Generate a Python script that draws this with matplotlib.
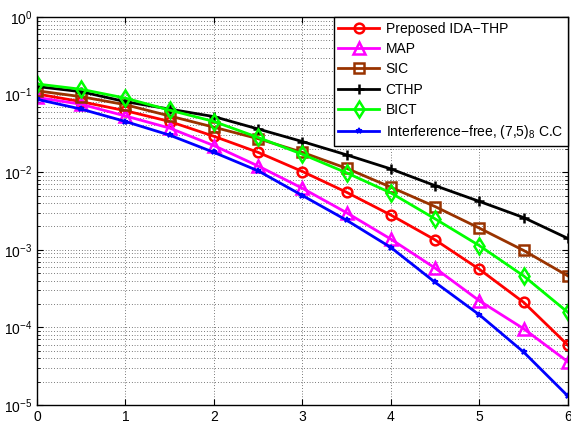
import matplotlib
matplotlib.use('Agg')
import matplotlib.pyplot as plt
import numpy as np
from matplotlib.ticker import LogLocator, NullLocator, FixedLocator

plt.rcParams['font.family'] = ['Liberation Sans', 'DejaVu Sans']
plt.rcParams['mathtext.fontset'] = 'custom'
plt.rcParams['mathtext.rm'] = 'Liberation Sans'
plt.rcParams['mathtext.it'] = 'Liberation Sans:italic'

snr = [0, 0.5, 1, 1.5, 2, 2.5, 3, 3.5, 4, 4.5, 5, 5.5, 6]

ida_thp = [0.102, 0.081, 0.062, 0.045, 0.029, 0.018, 0.0102, 0.0055, 0.0028, 0.00134, 0.00056, 0.00021, 5.9e-5]
map_det = [0.092, 0.075, 0.053, 0.037, 0.022, 0.012, 0.0062, 0.003, 0.00137, 0.00058, 0.00022, 9.6e-5, 3.6e-5]
sic = [0.112, 0.094, 0.074, 0.053, 0.038, 0.027, 0.018, 0.0112, 0.0064, 0.0036, 0.0019, 0.00098, 0.00046]
cthp = [0.127, 0.109, 0.081, 0.065, 0.052, 0.036, 0.0248, 0.0167, 0.011, 0.0067, 0.0042, 0.0026, 0.0014]
bict = [0.137, 0.117, 0.090, 0.063, 0.045, 0.028, 0.017, 0.0098, 0.0054, 0.0025, 0.00113, 0.00046, 0.000156]
intf_free = [0.087, 0.065, 0.045, 0.030, 0.018, 0.0104, 0.0050, 0.0024, 0.00107, 0.00038, 0.000145, 4.8e-5, 1.3e-5]

labels = ['Preposed IDA\u2212THP', 'MAP', 'SIC', 'CTHP', 'BICT',
          'Interference\u2212free, (7,5)$_8$ C.C']

fig = plt.figure(figsize=(5.71, 4.28), dpi=100)
ax = fig.add_axes([0.0648, 0.0537, 0.9299, 0.9066])

lw = 2
ax.semilogy(snr, ida_thp, '-o', color='red', lw=lw, ms=7, mfc='none', mew=1.8, label=labels[0])
ax.semilogy(snr, map_det, '-^', color='magenta', lw=lw, ms=8, mfc='none', mew=1.8, label=labels[1])
ax.semilogy(snr, sic, '-s', color='#993300', lw=lw, ms=7, mfc='none', mew=1.8, label=labels[2])
ax.semilogy(snr, cthp, '-+', color='black', lw=lw, ms=7, mew=1.8, label=labels[3])
ax.semilogy(snr, bict, '-d', color='#00ff00', lw=lw, ms=8, mfc='none', mew=1.8, label=labels[4])
ax.semilogy(snr, intf_free, '-*', color='blue', lw=lw, ms=4, mew=1.2, label=labels[5])

ax.set_xlim(0, 6)
ax.set_ylim(1e-5, 1)
ax.xaxis.set_major_locator(FixedLocator(range(7)))
ax.xaxis.set_minor_locator(NullLocator())
ax.yaxis.set_major_locator(LogLocator(base=10, numticks=10))
ax.yaxis.set_minor_locator(LogLocator(base=10, subs=np.arange(2, 10), numticks=20))

ax.grid(True, which='major', axis='both', color='k', linestyle=(0, (1, 3)), lw=0.5)
ax.grid(True, which='minor', axis='y', color='k', linestyle=(0, (1, 3)), lw=0.5)
ax.tick_params(which='both', direction='in', top=True, right=True, labelsize=10)
ax.tick_params(which='major', length=4)
ax.tick_params(which='minor', length=2)
for s in ax.spines.values():
    s.set_linewidth(1.0)

leg = ax.legend(loc='upper right', bbox_to_anchor=(1.0, 1.0), borderaxespad=0,
                fontsize=10, fancybox=False, edgecolor='k', framealpha=1,
                handlelength=2.9, handletextpad=0.5, labelspacing=0.45, borderpad=0.35)
leg.get_frame().set_linewidth(1.0)

fig.savefig('out.png', dpi=100)
